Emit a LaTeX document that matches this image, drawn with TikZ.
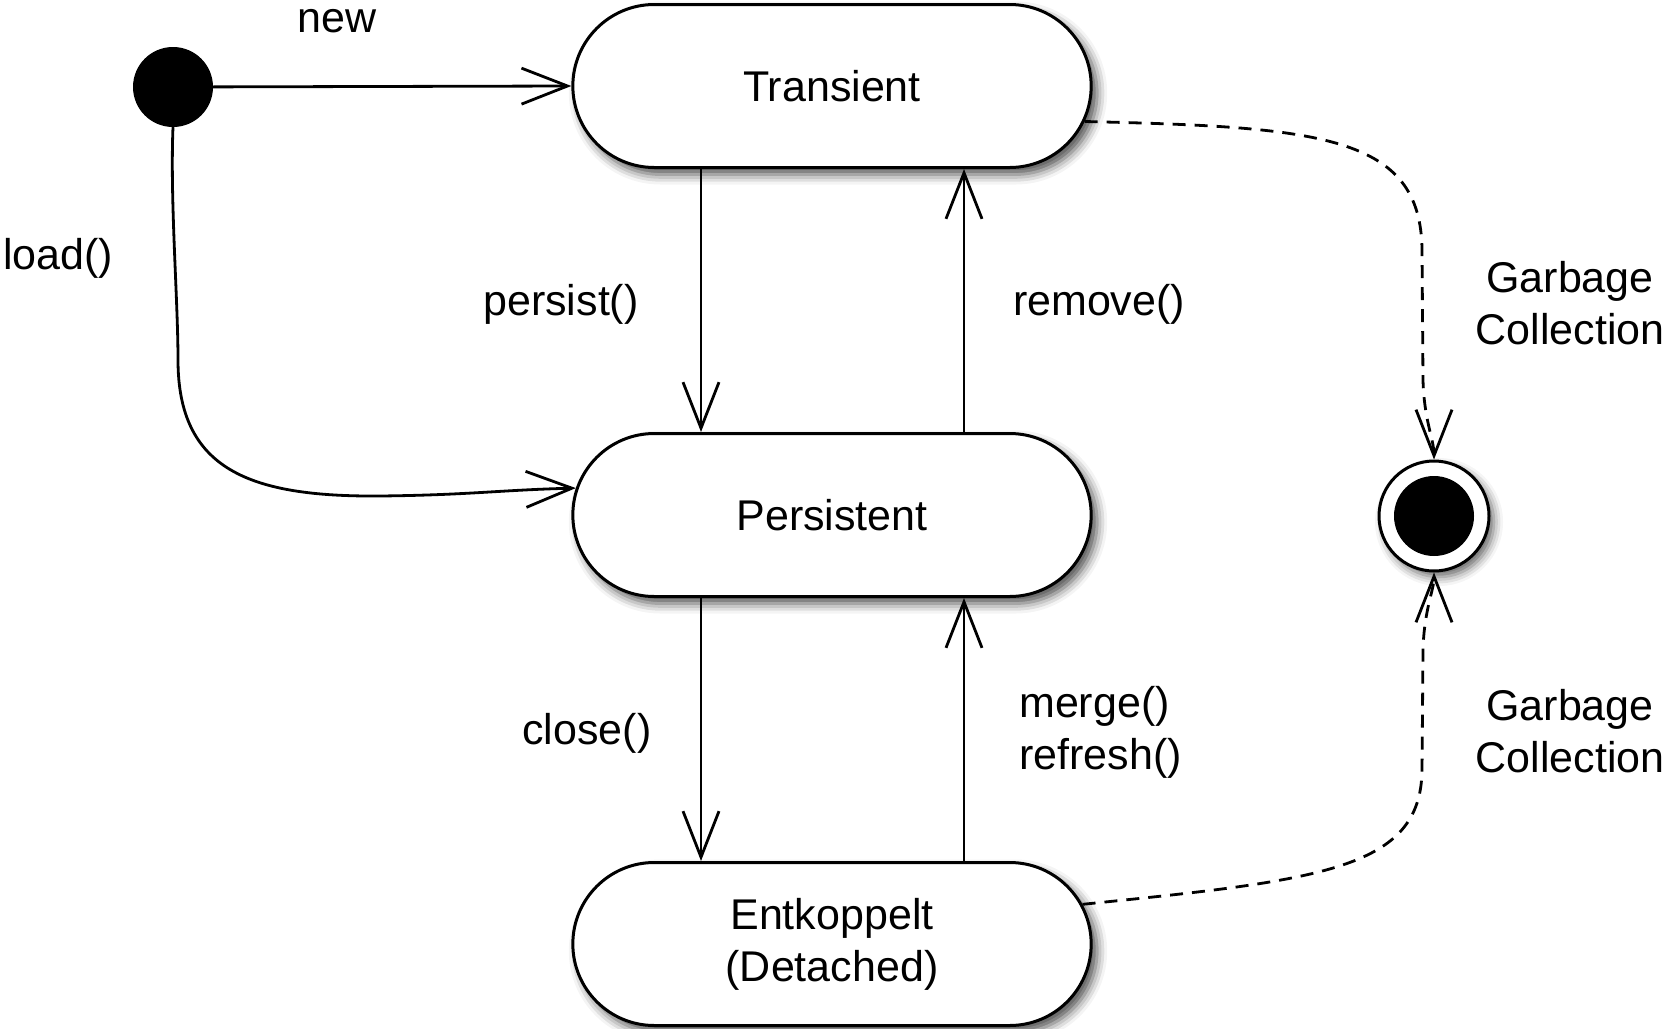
\documentclass[tikz,border=0pt]{standalone}
\usepackage{fontspec}
\setmainfont{Liberation Sans}
\usetikzlibrary{arrows.meta,shapes.misc,shadows.blur}
\begin{document}
\begin{tikzpicture}[x=1pt,y=-1pt,
  every node/.style={font=\fontsize{43}{52}\selectfont},
  state/.style={rounded rectangle, draw, line width=3pt, fill=white,
    minimum width=525pt, minimum height=163pt, align=center,
    blur shadow={shadow xshift=6pt, shadow yshift=-7pt, shadow blur radius=10pt, shadow opacity=70}},
  tip/.style={-{Straight Barb[length=46pt,width=36pt,line width=2.8pt]}},
  arr/.style={line width=2.8pt, tip},
  garb/.style={line width=2.8pt, tip, dash pattern=on 13pt off 9pt},
  lbl/.style={inner sep=0pt, align=left}
]
\useasboundingbox (0,0) rectangle (1665,1028);

\node[circle, fill=black, minimum size=80pt, inner sep=0pt] (I) at (173,87) {};
\node[state] (T) at (832,86) {Transient};
\node[state] (P) at (832,515) {Persistent};
\node[state] (E) at (832,944) {Entkoppelt\\(Detached)};
\node[circle, draw, line width=3pt, fill=white, minimum size=110pt, inner sep=0pt,
  blur shadow={shadow xshift=5pt, shadow yshift=-6pt, shadow blur radius=9pt, shadow opacity=60}] (F) at (1434,516) {};
\fill (F.center) circle (40pt);

% transitions
\draw[arr] (I) -- (T.west);
\draw[arr] (I.south) .. controls (170,200) and (178,300) .. (178,360)
  .. controls (178,470) and (250,497) .. (380,496)
  .. controls (470,495) and (500,490) .. (P.174.7);
\draw[arr] ([xshift=-131pt]T.south) -- ([xshift=-131pt]P.north);
\draw[arr] ([xshift=132pt]P.north) -- ([xshift=132pt]T.south);
\draw[arr] ([xshift=-131pt]P.south) -- ([xshift=-131pt]E.north);
\draw[arr] ([xshift=132pt]E.north) -- ([xshift=132pt]P.south);
\draw[garb] (T.-8.8) .. controls (1320,127) and (1421,135) .. (1422,250)
  -- (1423,380) .. controls (1424,420) and (1434,440) .. (F.north);
\draw[garb] (E.9.1) .. controls (1320,880) and (1421,870) .. (1422,770)
  -- (1423,650) .. controls (1424,610) and (1434,590) .. (F.south);

% labels
\node[lbl] (lnew) at (337,21) {new};
\node[lbl] (lload) at (58,258) {load()};
\node[lbl] (lpersist) at (561,304) {persist()};
\node[lbl] (lremove) at (1099,304) {remove()};
\node[lbl] (lclose) at (587,733) {close()};
\node[lbl, anchor=west] (lmerge) at (1019,732) {merge()\\refresh()};
\node[lbl, align=center] (lgc1) at (1570,303) {Garbage\\Collection};
\node[lbl, align=center] (lgc2) at (1570,731) {Garbage\\Collection};
\end{tikzpicture}
\end{document}
